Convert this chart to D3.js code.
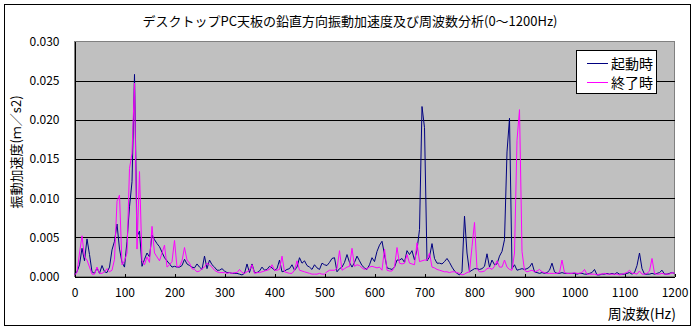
<!DOCTYPE html>
<html><head><meta charset="utf-8">
<script src="https://cdn.jsdelivr.net/npm/d3@7"></script>
<style>
html,body{margin:0;padding:0;background:#fff;}
svg{display:block;}
text{font-family:"Noto Sans CJK JP","Noto Sans",sans-serif;fill:#000;}
</style></head>
<body>
<svg id="c" width="696" height="331"></svg>
<script>
const title = "デスクトップPC天板の鉛直方向振動加速度及び周波数分析(0～1200Hz)";
const yTitle = "振動加速度(ｍ／s2)";
const xTitle = "周波数(Hz)";
const seriesNames = ["起動時", "終了時"];
const seriesColors = ["#000080", "#ff00ff"];
const xTicks = [0,100,200,300,400,500,600,700,800,900,1000,1100,1200];
const yTicks = [0,0.005,0.010,0.015,0.020,0.025,0.030];
const freqStep = 5;
const freqMax = 1200;

// 起動時 (start-up), one value per 5 Hz from 0 to 1200 Hz
const startup = [
0.0003,0.0006,0.0015,0.0036,0.0020,0.0048,0.0028,0.0006,0.0004,0.0011,
0.0004,0.0014,0.0006,0.0005,0.0012,0.0034,0.0045,0.0067,0.0035,0.0018,
0.0012,0.0045,0.0089,0.0121,0.0258,0.0051,0.0058,0.0013,0.0022,0.0030,
0.0025,0.0053,0.0047,0.0042,0.0038,0.0031,0.0024,0.0020,0.0016,0.0012,
0.0013,0.0012,0.0012,0.0014,0.0022,0.0016,0.0014,0.0012,0.0011,0.0016,
0.0012,0.0009,0.0026,0.0010,0.0021,0.0015,0.0012,0.0008,0.0008,0.0010,
0.0007,0.0005,0.0005,0.0004,0.0004,0.0004,0.0003,0.0002,0.0004,0.0016,
0.0005,0.0016,0.0005,0.0005,0.0007,0.0012,0.0008,0.0009,0.0013,0.0011,
0.0008,0.0010,0.0021,0.0006,0.0007,0.0009,0.0010,0.0015,0.0008,0.0012,
0.0024,0.0017,0.0020,0.0014,0.0012,0.0009,0.0015,0.0011,0.0009,0.0017,
0.0015,0.0014,0.0018,0.0023,0.0024,0.0006,0.0010,0.0012,0.0018,0.0028,
0.0018,0.0012,0.0018,0.0026,0.0020,0.0014,0.0011,0.0009,0.0015,0.0024,
0.0019,0.0032,0.0040,0.0045,0.0028,0.0011,0.0010,0.0009,0.0012,0.0021,
0.0021,0.0023,0.0018,0.0033,0.0028,0.0033,0.0021,0.0034,0.0060,0.0217,
0.0190,0.0020,0.0025,0.0042,0.0023,0.0017,0.0017,0.0016,0.0019,0.0023,
0.0018,0.0012,0.0007,0.0004,0.0002,0.0006,0.0077,0.0030,0.0006,0.0008,
0.0010,0.0010,0.0009,0.0010,0.0013,0.0029,0.0012,0.0021,0.0015,0.0016,
0.0026,0.0032,0.0047,0.0159,0.0202,0.0010,0.0015,0.0008,0.0009,0.0010,
0.0009,0.0010,0.0012,0.0017,0.0006,0.0005,0.0004,0.0005,0.0004,0.0005,
0.0008,0.0017,0.0006,0.0004,0.0004,0.0005,0.0004,0.0004,0.0004,0.0004,
0.0004,0.0003,0.0004,0.0004,0.0003,0.0003,0.0004,0.0005,0.0009,0.0002,
0.0002,0.0003,0.0003,0.0004,0.0003,0.0004,0.0003,0.0005,0.0003,0.0003,
0.0003,0.0004,0.0005,0.0003,0.0005,0.0014,0.0030,0.0010,0.0003,0.0003,
0.0003,0.0004,0.0003,0.0004,0.0005,0.0008,0.0003,0.0003,0.0004,0.0005,
0.0004
];

// 終了時 (shut-down), one value per 5 Hz from 0 to 1200 Hz
const shutdown = [
0.0002,0.0005,0.0030,0.0052,0.0025,0.0021,0.0012,0.0003,0.0003,0.0012,
0.0004,0.0004,0.0006,0.0010,0.0006,0.0008,0.0022,0.0096,0.0104,0.0015,
0.0020,0.0030,0.0138,0.0157,0.0247,0.0035,0.0134,0.0020,0.0015,0.0025,
0.0018,0.0064,0.0030,0.0025,0.0020,0.0030,0.0040,0.0012,0.0015,0.0019,
0.0046,0.0012,0.0013,0.0020,0.0037,0.0021,0.0017,0.0010,0.0009,0.0006,
0.0007,0.0010,0.0012,0.0017,0.0015,0.0012,0.0008,0.0006,0.0005,0.0005,
0.0005,0.0004,0.0005,0.0004,0.0005,0.0005,0.0009,0.0005,0.0004,0.0006,
0.0008,0.0015,0.0004,0.0005,0.0005,0.0006,0.0007,0.0008,0.0009,0.0015,
0.0008,0.0008,0.0009,0.0026,0.0006,0.0005,0.0004,0.0004,0.0008,0.0020,
0.0008,0.0007,0.0006,0.0005,0.0004,0.0003,0.0003,0.0003,0.0004,0.0003,
0.0003,0.0006,0.0008,0.0008,0.0008,0.0010,0.0033,0.0008,0.0010,0.0012,
0.0013,0.0036,0.0013,0.0015,0.0014,0.0011,0.0009,0.0010,0.0012,0.0013,
0.0012,0.0011,0.0012,0.0008,0.0035,0.0008,0.0007,0.0007,0.0012,0.0037,
0.0017,0.0016,0.0017,0.0028,0.0017,0.0016,0.0015,0.0043,0.0019,0.0020,
0.0021,0.0021,0.0030,0.0012,0.0011,0.0009,0.0008,0.0007,0.0006,0.0006,
0.0005,0.0006,0.0006,0.0005,0.0004,0.0002,0.0003,0.0005,0.0006,0.0038,
0.0069,0.0010,0.0006,0.0006,0.0007,0.0010,0.0011,0.0009,0.0013,0.0020,
0.0012,0.0012,0.0021,0.0012,0.0009,0.0008,0.0030,0.0174,0.0213,0.0032,
0.0008,0.0006,0.0007,0.0008,0.0006,0.0007,0.0009,0.0006,0.0005,0.0004,
0.0004,0.0004,0.0004,0.0004,0.0005,0.0021,0.0005,0.0004,0.0004,0.0004,
0.0005,0.0004,0.0004,0.0005,0.0009,0.0003,0.0003,0.0003,0.0003,0.0002,
0.0003,0.0003,0.0004,0.0003,0.0003,0.0003,0.0003,0.0003,0.0002,0.0003,
0.0004,0.0005,0.0008,0.0004,0.0004,0.0003,0.0007,0.0003,0.0003,0.0004,
0.0007,0.0023,0.0004,0.0003,0.0003,0.0004,0.0003,0.0003,0.0003,0.0005,
0.0004
];

const freqs = d3.range(0, freqMax + 1, freqStep);
const series = [startup, shutdown];

const svg = d3.select("#c");
// outer chart border
svg.append("rect").attr("x",4.5).attr("y",4.5).attr("width",686).attr("height",321)
  .attr("fill","#fff").attr("stroke","#000").attr("stroke-width",1);

const x = d3.scaleLinear().domain([0,1200]).range([74.5,674.5]);
const y = d3.scaleLinear().domain([0,0.030]).range([276.5,41.5]);

// plot area
svg.append("rect").attr("x",x(0)).attr("y",y(0.030)).attr("width",x(1200)-x(0)).attr("height",y(0)-y(0.030))
  .attr("fill","#c0c0c0").attr("stroke","#808080").attr("stroke-width",1).attr("shape-rendering","crispEdges");

// gridlines
svg.append("g").selectAll("line").data(yTicks.filter(v=>v>0 && v<0.030)).join("line")
  .attr("x1",x(0)).attr("x2",x(1200)).attr("y1",d=>Math.round(y(d))+0.5).attr("y2",d=>Math.round(y(d))+0.5)
  .attr("stroke","#000").attr("stroke-width",1).attr("shape-rendering","crispEdges");

// axes
const yAxis = d3.axisLeft(y).tickValues(yTicks).tickFormat(d3.format(".3f")).tickSize(0).tickPadding(15);
const gy = svg.append("g").attr("transform",`translate(${x(0)},0)`).call(yAxis);
gy.select(".domain").attr("stroke","#000").attr("shape-rendering","crispEdges");
gy.selectAll("text").style("font-size","12px").style("font-family",'"Noto Sans CJK JP",sans-serif');

const xAxis = d3.axisBottom(x).tickValues(xTicks).tickFormat(d3.format("d")).tickSizeInner(-3).tickSizeOuter(0).tickPadding(12);
const gx = svg.append("g").attr("transform",`translate(0,${y(0)})`).call(xAxis);
gx.select(".domain").attr("stroke","#000").attr("shape-rendering","crispEdges");
gx.selectAll(".tick line").attr("stroke","#000").attr("shape-rendering","crispEdges");
gx.selectAll("text").style("font-size","12px").style("font-family",'"Noto Sans CJK JP",sans-serif');

// series lines (shut-down drawn on top)
const line = d3.line().x((d,i)=>x(freqs[i])).y(d=>y(d));
series.forEach((s,k)=>{
  svg.append("path").datum(s).attr("d",line).attr("fill","none")
    .attr("stroke",seriesColors[k]).attr("stroke-width",1).attr("stroke-linejoin","miter");
});

// titles
svg.append("text").attr("x",350).attr("y",26).attr("text-anchor","middle")
  .style("font-size","13px").text(title);
svg.append("text").attr("transform","translate(21,152) rotate(-90)").attr("text-anchor","middle")
  .style("font-size","13px").text(yTitle);
svg.append("text").attr("x",676).attr("y",319).attr("text-anchor","end")
  .style("font-size","14px").text(xTitle);

// legend
const lg = svg.append("g");
lg.append("rect").attr("x",576.5).attr("y",50.5).attr("width",80).attr("height",43)
  .attr("fill","#fff").attr("stroke","#000").attr("stroke-width",1);
seriesNames.forEach((n,k)=>{
  const yy = 63.5 + k*19;
  lg.append("line").attr("x1",587).attr("x2",608).attr("y1",yy).attr("y2",yy)
    .attr("stroke",seriesColors[k]).attr("stroke-width",1);
  lg.append("text").attr("x",611).attr("y",yy+5).style("font-size","14px").text(n);
});
</script>
</body></html>
